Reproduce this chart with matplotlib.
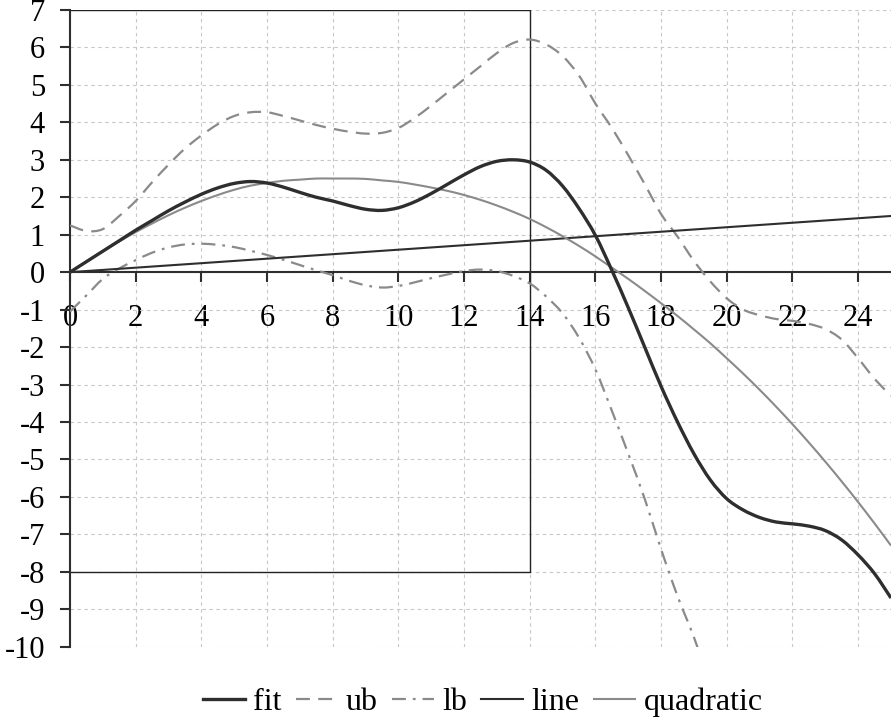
import matplotlib
matplotlib.use("Agg")
import matplotlib.pyplot as plt
from matplotlib.path import Path
from matplotlib.patches import PathPatch
from matplotlib.lines import Line2D

plt.rcParams['font.family'] = ['Liberation Serif', 'DejaVu Serif']
plt.rcParams['lines.scale_dashes'] = False

# ---------------- data ----------------
x = [0, 0.5, 1, 1.5, 2, 2.5, 3, 3.5, 4, 4.5, 5, 5.5, 6, 6.5, 7, 7.5, 8, 8.5, 9, 9.5,
     10, 10.5, 11, 11.5, 12, 12.5, 13, 13.5, 14, 14.5, 15, 15.5, 16, 16.5, 17, 17.5,
     18, 18.5, 19, 19.5, 20, 20.5, 21, 21.5, 22, 22.5, 23, 23.5, 24, 24.5, 25]

fit = [0, 0.28, 0.56, 0.84, 1.12, 1.38, 1.64, 1.87, 2.08, 2.25, 2.37, 2.42, 2.38, 2.27,
       2.13, 2.0, 1.9, 1.78, 1.68, 1.65, 1.72, 1.88, 2.1, 2.35, 2.6, 2.82, 2.96, 3.0,
       2.94, 2.72, 2.3, 1.7, 0.98, 0.05, -0.95, -2.0, -3.05, -4.0, -4.85, -5.55, -6.05,
       -6.35, -6.55, -6.67, -6.72, -6.78, -6.9, -7.15, -7.55, -8.05, -8.7]

ub = [1.25, 1.1, 1.15, 1.5, 1.9, 2.4, 2.87, 3.3, 3.65, 3.95, 4.17, 4.27, 4.27, 4.17,
      4.05, 3.93, 3.83, 3.75, 3.7, 3.72, 3.85, 4.12, 4.45, 4.8, 5.15, 5.5, 5.85, 6.12,
      6.21, 6.08, 5.77, 5.25, 4.5, 3.85, 3.12, 2.35, 1.55, 0.95, 0.3, -0.25, -0.7,
      -1.0, -1.15, -1.25, -1.3, -1.38, -1.52, -1.8, -2.3, -2.85, -3.3]

lb_x = [0, 0.5, 1, 1.5, 2, 2.5, 3, 3.5, 4, 4.5, 5, 5.5, 6, 6.5, 7, 7.5, 8, 8.5, 9, 9.5,
        10, 10.5, 11, 11.5, 12, 12.5, 13, 13.5, 14, 14.5, 15, 15.5, 16, 16.5, 17, 17.5,
        18, 18.5, 19, 19.5]
lb = [-1.05, -0.62, -0.18, 0.1, 0.32, 0.52, 0.66, 0.74, 0.76, 0.73, 0.67, 0.57, 0.46,
      0.33, 0.19, 0.05, -0.08, -0.23, -0.35, -0.41, -0.37, -0.27, -0.16, -0.06, 0.03,
      0.07, 0.03, -0.1, -0.3, -0.65, -1.1, -1.75, -2.6, -3.7, -4.85, -6.05, -7.4, -8.65,
      -9.75, -11.0]

line_x = [0, 25]
line_y = [0, 1.5]

quadratic = [0, 0.29, 0.56, 0.82, 1.07, 1.3, 1.52, 1.72, 1.9, 2.06, 2.2, 2.31, 2.38,
             2.44, 2.47, 2.5, 2.5, 2.5, 2.49, 2.45, 2.41, 2.34, 2.26, 2.17, 2.06, 1.93,
             1.78, 1.61, 1.42, 1.2, 0.96, 0.7, 0.42, 0.12, -0.18, -0.5, -0.83, -1.17,
             -1.53, -1.9, -2.3, -2.71, -3.14, -3.59, -4.06, -4.55, -5.06, -5.59, -6.14,
             -6.71, -7.3]

box_x = [0, 14, 14, 0]
box_y = [7, 7, -8, -8]

xticks = list(range(0, 25, 2))
yticks = list(range(-10, 8))


def smooth_path(xs, ys):
    """Smoothed line through the points (Catmull-Rom drawn as cubic Beziers)."""
    n = len(xs)
    verts = [(xs[0], ys[0])]
    codes = [Path.MOVETO]
    for i in range(n - 1):
        p0 = (xs[max(i - 1, 0)], ys[max(i - 1, 0)])
        p1 = (xs[i], ys[i])
        p2 = (xs[i + 1], ys[i + 1])
        p3 = (xs[min(i + 2, n - 1)], ys[min(i + 2, n - 1)])
        c1 = (p1[0] + (p2[0] - p0[0]) / 6, p1[1] + (p2[1] - p0[1]) / 6)
        c2 = (p2[0] - (p3[0] - p1[0]) / 6, p2[1] - (p3[1] - p1[1]) / 6)
        verts += [c1, c2, p2]
        codes += [Path.CURVE4] * 3
    return Path(verts, codes)


# ---------------- figure ----------------
fig = plt.figure(figsize=(8.91, 7.19), dpi=100)
ax = fig.add_axes([70 / 891, 1 - 646.7 / 719, 1 - 70 / 891, (646.7 - 10) / 719])
ax.set_xlim(0, 25)
ax.set_ylim(-10, 7)

dark = '#2e2e2e'
gray = '#8a8a8a'

styles = [
    ('fit', x, fit, dict(color=dark, lw=2.4, ls='-'), 5),
    ('ub', x, ub, dict(color=gray, lw=1.6, ls=(0, (10, 6))), 4),
    ('lb', lb_x, lb, dict(color=gray, lw=1.6, ls=(0, (10, 5, 2, 5))), 4),
    ('line', line_x, line_y, dict(color=dark, lw=1.5, ls='-'), 4),
    ('quadratic', x, quadratic, dict(color=gray, lw=1.5, ls='-'), 4),
]

ax.plot(box_x, box_y, color='#222222', lw=1.0, zorder=2)

handles = []
for name, xs, ys, st, z in styles:
    patch = PathPatch(smooth_path(xs, ys), facecolor='none', edgecolor=st['color'],
                      lw=st['lw'], linestyle=st['ls'], zorder=z, capstyle='butt',
                      joinstyle='round')
    ax.add_patch(patch)
    handles.append(Line2D([], [], color=st['color'], lw=st['lw'], linestyle=st['ls'],
                          label=name))

ax.set_xticks(xticks)
ax.set_yticks(yticks)
ax.set_xticklabels([str(v) for v in xticks])
ax.set_yticklabels([str(v) for v in yticks])

ax.grid(True, color='#c8c8c8', lw=0.8, dashes=(2.5, 2.5))
ax.set_axisbelow(True)

for s in ['top', 'right']:
    ax.spines[s].set_visible(False)
ax.spines['bottom'].set_position(('data', 0))
ax.spines['bottom'].set_color(dark)
ax.spines['left'].set_color(dark)
ax.spines['bottom'].set_linewidth(1.5)
ax.spines['left'].set_linewidth(1.5)
ax.spines['bottom'].set_zorder(3)

ax.tick_params(axis='x', direction='out', length=7, width=1.5, color=dark,
               pad=16, labelsize=22, labelcolor='black')
ax.tick_params(axis='y', direction='out', length=7, width=1.5, color=dark,
               pad=11, labelsize=22, labelcolor='black')

fig.legend(handles=handles, loc='center', bbox_to_anchor=(483 / 891, 1 - 702 / 719),
           ncol=5, frameon=False, fontsize=23, handlelength=1.3, handletextpad=0.26,
           columnspacing=0.45, borderaxespad=0)

fig.savefig('out.png', dpi=100)
